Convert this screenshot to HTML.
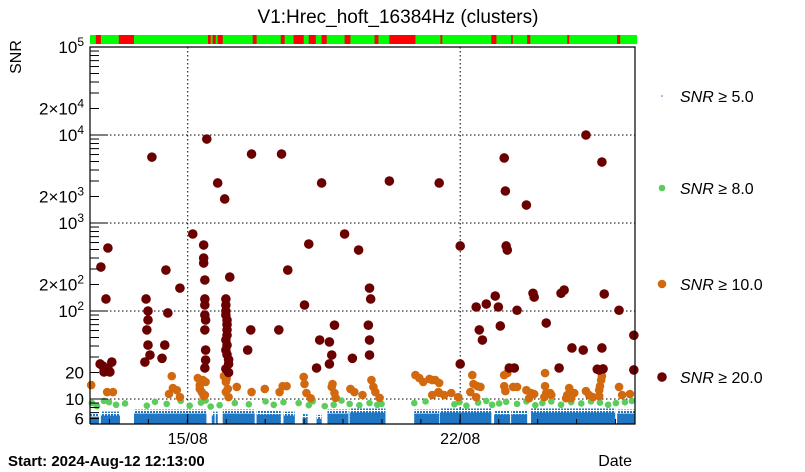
<!DOCTYPE html>
<html><head><meta charset="utf-8"><style>
body{margin:0;background:#fff;}
svg{display:block;font-family:"Liberation Sans",sans-serif;}
</style></head><body>
<svg id="chart" width="805" height="472" viewBox="0 0 805 472" xmlns="http://www.w3.org/2000/svg">
<rect width="805" height="472" fill="#fff"/>
<text x="398" y="23" font-size="19" text-anchor="middle">V1:Hrec_hoft_16384Hz (clusters)</text>
<g id="statusbar"></g>
<g id="grid"></g>
<g id="marks"></g>
<g id="axes"></g>
<text transform="translate(21,57) rotate(-90)" font-size="16" text-anchor="middle">SNR</text>
<text x="8" y="466" font-size="15" font-weight="bold">Start: 2024-Aug-12 12:13:00</text>
<text x="632" y="466" font-size="16" text-anchor="end">Date</text>
<g id="legend"></g>
</svg>
<script>
// ---- data (days since start, SNR) ----
const redSegments = [[0.15,0.28],[0.74,1.13],[3.03,3.1],[3.15,3.23],[3.28,3.41],[4.18,4.28],[4.9,5.0],[5.23,5.49],[5.62,5.8],[5.95,6.08],[6.54,6.69],[7.31,7.41],[7.69,8.36],[9.0,9.05],[10.31,10.44],[10.82,10.85],[11.23,11.31],[12.26,12.31],[13.54,13.62]];
const blueSegments = [[0,0.23],[0.28,0.77],[1.13,2.99],[3.13,3.2],[3.23,3.28],[3.41,4.23],[4.28,4.9],[4.97,5.26],[5.46,5.59],[5.82,5.95],[6.1,6.64],[6.67,7.59],[8.33,8.97],[8.99,10.31],[10.38,10.79],[10.82,11.23],[11.33,13.49],[13.54,14.0]];
const blueTopSNR = [7.0,7.2,7.6,7.2,7.2,7.6,7.4,7.2,6.8,6.6,7.6,7.8,7.6,7.8,7.4,7.4,7.8,7.6];
const maroonDays = [0.28,0.46,0.41,0.33,0.46,0.56,0.36,0.51,0.26,1.44,1.49,1.49,1.46,1.49,1.54,1.41,1.59,1.95,2.0,1.92,1.85,2.31,2.64,3.0,2.92,2.92,2.92,2.95,2.95,2.95,2.95,2.97,2.95,2.97,2.97,2.95,3.28,3.46,3.59,3.49,3.49,3.49,3.49,3.52,3.52,3.52,3.52,3.49,3.52,3.49,3.52,3.56,3.56,3.49,3.56,4.15,4.05,4.13,4.85,4.92,5.08,5.51,5.62,5.82,5.95,5.9,6.15,6.15,6.21,6.28,6.54,6.74,6.9,7.18,7.21,7.15,7.18,7.18,7.69,8.97,9.51,9.51,9.92,10.0,10.08,10.18,10.41,10.49,10.54,10.64,10.67,10.69,10.72,10.77,10.9,11.21,10.97,11.38,11.41,11.72,12.05,12.1,12.18,12.74,12.38,12.67,13.15,13.21,13.15,13.08,13.03,13.18,13.59,13.97,13.97];
const maroonSNR = [316,520,137,23.7,22.5,26.3,20.3,20.3,25,137,100,79,61,41,31.6,26.3,5600,292,95,41,29,182,750,9000,562,400,351,225,137,117,90,79,61,36,27.7,22.5,2850,1875,243,137,117,100,90,79,70,61,53,47,41,36,32,28,25,22,20,6080,36,61,61,6080,292,117,577,22.5,2850,46.8,25,44.5,31.6,69,750,29,493,182,137,69,46.8,31.6,3000,2850,548,25,111,61,46.8,120,148,111,67.6,5480,2310,548,493,22.5,22.5,1600,102,159,144,73,22.5,159,173,10000,38,36,4930,156,38,21.4,21.8,22,102,53,21.4];
const orangeDays = [0.03,0.44,0.59,2.1,2.13,2.03,2.31,2.23,2.77,2.82,2.87,2.92,2.97,2.82,2.9,2.95,3.44,3.49,3.54,3.56,3.49,3.51,3.77,4.15,4.49,4.87,4.95,5.05,5.49,5.51,5.56,5.67,6.21,6.23,6.28,6.31,6.69,6.79,7.0,7.23,7.28,7.33,7.44,8.36,8.46,8.56,8.72,8.79,8.97,8.97,8.87,8.95,8.79,9.28,9.1,9.46,9.82,9.85,9.77,9.95,10.03,9.92,10.64,10.72,10.64,10.67,10.87,10.97,11.21,11.33,11.41,11.28,11.69,11.69,11.72,11.82,11.67,11.85,12.23,12.31,12.26,12.44,12.36,12.74,12.82,12.92,13.08,13.1,13.13,13.15,13.08,13.59,13.67,13.87];
const orangeSNR = [14.4,12.0,12.0,18.2,13.3,11.4,10.5,12.6,17.3,14.4,12.0,10.8,15.6,13.0,16.4,11.1,18.2,15.6,13.0,10.5,12.0,17.0,13.7,12.0,13.0,12.0,14.0,14.0,17.8,14.8,11.7,10.2,13.7,14.8,11.7,10.3,13.0,12.0,11.1,16.4,13.7,12.0,10.3,18.7,17.3,15.6,16.9,16.4,15.2,11.7,16.4,12.0,11.1,11.7,11.1,10.5,18.7,14.8,12.0,14.0,13.7,10.5,18.7,19.7,14.0,12.3,13.7,13.7,12.6,11.7,11.4,10.2,19.7,14.0,11.7,11.7,10.5,11.1,10.2,13.3,11.1,11.7,10.2,12.3,11.1,10.5,12.6,14.0,16.4,18.2,10.8,13.7,11.1,11.4];
const greenDays = [0.05,0.18,0.36,0.49,0.67,0.9,1.46,1.67,1.97,2.33,2.56,2.85,2.97,3.1,3.33,3.72,4.08,4.51,4.72,4.97,5.36,5.62,5.72,6.03,6.26,6.46,6.67,6.92,7.18,7.38,7.49,8.33,8.62,9.36,9.49,9.67,9.97,10.18,10.33,10.51,10.69,10.97,11.21,11.44,11.62,11.85,12.1,12.36,12.62,12.87,13.1,13.31,13.51,13.74,13.92];
const greenSNR = [9.0,8.3,9.5,9.2,8.6,8.9,8.4,9.3,8.8,9.5,8.4,9.1,9.6,8.2,8.5,9.0,8.7,9.4,8.6,9.2,9.0,8.5,9.4,8.3,8.6,9.6,8.8,8.5,9.0,8.6,8.8,9.0,9.4,8.7,9.2,8.4,9.1,9.5,8.6,8.9,9.3,8.8,9.4,8.5,9.0,9.4,8.6,9.2,8.9,9.4,9.1,8.6,9.0,9.2,9.5];
const yTickVals = [100000,20000,10000,2000,1000,200,100,20,10,6];
const yTickLabels = [["10","5"],["2×10","4"],["10","4"],["2×10","3"],["10","3"],["2×10","2"],["10","2"],["20"],["10"],["6"]];
const xTickDays = [2.51,9.51];
const xTickLabels = ["15/08","22/08"];
const legendLabels = ["5.0","8.0","10.0","20.0"];

// ---- scales ----
const X0=90, X1=635, Y0=47, Y1=424, DAYS=14.0;
const xs = d => X0 + d*(X1-X0)/DAYS;
const ys = v => 399 - (Math.log10(v)-1)*88;
const NS="http://www.w3.org/2000/svg";
function mk(tag, attrs, parent){const e=document.createElementNS(NS,tag);for(const k in attrs)e.setAttribute(k,attrs[k]);parent.appendChild(e);return e;}
const sb=document.getElementById('statusbar'), grid=document.getElementById('grid'), marks=document.getElementById('marks'), axes=document.getElementById('axes'), leg=document.getElementById('legend');

// status bar
let r=mk('rect',{x:X0,y:35,width:X1+2-X0,height:9,fill:'#00ff00'},sb);


redSegments.forEach(s=>{const e=mk('rect',{x:xs(s[0]),y:35,width:Math.max(1.5,xs(s[1])-xs(s[0])),height:9,fill:'#ff0000'},sb);

});

// grid
[10,100,1000,10000].forEach(v=>{const e=mk('line',{x1:X0,x2:X1,y1:ys(v),y2:ys(v),stroke:'#000','stroke-width':1,'stroke-dasharray':'1.5,2.5'},grid);

});
xTickDays.forEach(d=>{const e=mk('line',{x1:xs(d),x2:xs(d),y1:Y0,y2:Y1,stroke:'#000','stroke-width':1,'stroke-dasharray':'1.5,2.5'},grid);

});

// blue
const pat=mk('pattern',{id:'bp',width:3,height:3,patternUnits:'userSpaceOnUse'},mk('defs',{},marks));
mk('rect',{x:0,y:0,width:2,height:2,fill:'#1f77c4'},pat);
blueSegments.forEach((s,i)=>{const top=ys(blueTopSNR[i]);const x=xs(s[0]),w=xs(s[1])-xs(s[0]);
const e=mk('rect',{x:x,y:top,width:w,height:Y1-top,fill:'url(#bp)'},marks);


const f=mk('rect',{x:x,y:top+4,width:w,height:Y1-top-4,fill:'#1f77c4'},marks);

});
function dots(days,vals,color,rad,name){days.forEach((d,i)=>{const v=vals[i];if(v===undefined)return;
const c=mk('circle',{cx:Math.min(xs(d),X1),cy:ys(v),r:rad,fill:color},marks);

});}
dots(greenDays,greenSNR,'#5ccc5c',3.3,'snr8-point');
dots(orangeDays,orangeSNR,'#d2690f',4.3,'snr10-point');
dots(maroonDays,maroonSNR,'#6b0000',4.8,'snr20-point');

// frame
let fr=mk('path',{d:`M${X0},${Y1}V${Y0}H${X1}V${Y1}H${X0}`,fill:'none',stroke:'#000','stroke-width':1.2},axes);


// y ticks
for(let dec=0;dec<5;dec++){for(let m=1;m<10;m++){const v=m*Math.pow(10,dec+1);if(v<5.2)continue;const y=ys(v);if(y<Y0-0.5)continue;
const len=(m===1)?18:9;
const t=mk('line',{x1:X0,x2:X0+len,y1:y,y2:y,stroke:'#000','stroke-width':1},axes);

}}
[6,7,8,9].forEach(v=>{const t=mk('line',{x1:X0,x2:X0+9,y1:ys(v),y2:ys(v),stroke:'#000'},axes);

});
mk('line',{x1:X0,x2:X0+9,y1:ys(100000),y2:ys(100000),stroke:'#000'},axes);
yTickVals.forEach((v,i)=>{const lab=yTickLabels[i];const t=mk('text',{x:84,y:ys(v)+6,'font-size':17,'text-anchor':'end'},axes);


const a=document.createElementNS(NS,'tspan');a.textContent=lab[0];t.appendChild(a);
if(lab[1]){const b=document.createElementNS(NS,'tspan');b.setAttribute('dy','-7');b.setAttribute('font-size','12');b.textContent=lab[1];t.appendChild(b);}});
// x ticks
xTickDays.forEach((d,i)=>{const t=mk('line',{x1:xs(d),x2:xs(d),y1:Y1,y2:Y1-10,stroke:'#000'},axes);


const l=mk('text',{x:xs(d),y:444,'font-size':16,'text-anchor':'middle'},axes);l.textContent=xTickLabels[i];

});
for(let d=0.5;d<DAYS;d+=1){const t=mk('line',{x1:xs(d),x2:xs(d),y1:Y1,y2:Y1-5,stroke:'#000'},axes);

}

// legend
const legY=[96,188,284,377], legC=['#1f77c4','#5ccc5c','#d2690f','#6b0000'], legR=[0.8,3.3,4.3,4.8];
legendLabels.forEach((lab,i)=>{const g=mk('g',{},leg);


mk('circle',{cx:662,cy:legY[i],r:legR[i],fill:legC[i]},g);
const t=mk('text',{x:680,y:legY[i]+6,'font-size':16},g);
const a=document.createElementNS(NS,'tspan');a.setAttribute('font-style','italic');a.textContent='SNR';t.appendChild(a);
const b=document.createElementNS(NS,'tspan');b.textContent=' ≥ '+lab;t.appendChild(b);});
</script>
</body></html>
